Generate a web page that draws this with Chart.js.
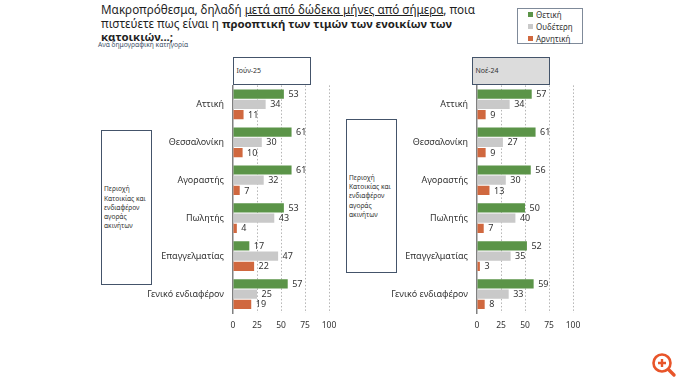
<!DOCTYPE html>
<html lang="el">
<head>
<meta charset="utf-8">
<script src="https://cdn.jsdelivr.net/npm/chart.js@4"></script>
<style>
    html, body { margin: 0; padding: 0; background: #fff; }
    body { position: relative; width: 680px; height: 382px; overflow: hidden; font-family: "Noto Sans", sans-serif; color: #1f1f1f; }
    canvas { position: absolute; }
    .abs { position: absolute; box-sizing: border-box; }
    .title { left: 101px; top: 3px; width: 400px; font-size: 11.7px; line-height: 13.5px; white-space: nowrap; }
    .title b { font-size: 11.4px; }
    .subtitle { left: 98px; top: 40px; font-size: 6.7px; line-height: 10px; color: #44546a; }
    .period { top: 57px; width: 78px; height: 27.5px; border: 1.5px solid #44546a; font-size: 7px; line-height: 26px; padding-left: 2.5px; color: #333; }
    .side { width: 51px; border: 1.5px solid #44546a; font-size: 6.6px; line-height: 9.2px; padding-left: 2px; display: flex; align-items: center; color: #333; }
    .legend { left: 517px; top: 7.5px; width: 66px; height: 36px; border: 1px solid #7f8a99; font-size: 8px; }
    .legend div { position: absolute; left: 18px; line-height: 12px; white-space: nowrap; color: #333; }
    .legend i { position: absolute; left: -8px; top: 3.5px; width: 5px; height: 5px; }
</style>
</head>
<body>
<div class="abs title">Μακροπρόθεσμα, δηλαδή <u>μετά από δώδεκα μήνες από σήμερα</u>, ποια<br>πιστεύετε πως είναι η <b>προοπτική των τιμών των ενοικίων των</b><br><b>κατοικιών...;</b></div>
<div class="abs subtitle">Ανά δημογραφική κατηγορία</div>
<div class="abs legend" id="legend"></div>

<div class="abs period" style="left:233px">Ιούν-25</div>
<div class="abs period" style="left:472px;background:#dcdcdc">Νοέ-24</div>
<div class="abs side" style="left:101px;top:130px;height:155px"><span>Περιοχή Κατοικίας και ενδιαφέρον αγοράς ακινήτων</span></div>
<div class="abs side" style="left:346px;top:119px;height:154px"><span>Περιοχή Κατοικίας και ενδιαφέρον αγοράς ακινήτων</span></div>

<canvas id="chart-1" style="left:120px;top:71px;width:225px;height:269px" width="225" height="269"></canvas>
<canvas id="chart-2" style="left:364px;top:71px;width:225px;height:269px" width="225" height="269"></canvas>

<svg class="abs" style="left:648px;top:349px" width="30" height="30" viewBox="0 0 30 30">
    <circle cx="14" cy="14" r="8.5" fill="#fff" stroke="#e8552a" stroke-width="2.6"/>
    <path d="M20.5 20.5 L26 26" stroke="#e8552a" stroke-width="3.4" stroke-linecap="round"/>
    <path d="M10 14 H18 M14 10 V18" stroke="#e8552a" stroke-width="2.4"/>
</svg>

<script>
    var categories = ['Αττική', 'Θεσσαλονίκη', 'Αγοραστής', 'Πωλητής', 'Επαγγελματίας', 'Γενικό ενδιαφέρον'];
    var seriesNames = ['Θετική', 'Ουδέτερη', 'Αρνητική'];
    var seriesColors = ['#5b9448', '#c9c9c9', '#d0683f'];
    var xTicks = [0, 25, 50, 75, 100];

    var jun25Positive = [53, 61, 61, 53, 17, 57];
    var jun25Neutral = [34, 30, 32, 43, 47, 25];
    var jun25Negative = [11, 10, 7, 4, 22, 19];

    var nov24Positive = [57, 61, 56, 50, 52, 59];
    var nov24Neutral = [34, 27, 30, 40, 35, 33];
    var nov24Negative = [9, 9, 13, 7, 3, 8];

    var fontFamily = '"Noto Sans", sans-serif';
    var textColor = '#333333';

    // value next to each bar
    var barLabels = {
        id: 'barLabels',
        afterDatasetsDraw: function (chart) {
            var ctx = chart.ctx;
            ctx.save();
            ctx.font = '9px ' + fontFamily;
            ctx.fillStyle = textColor;
            ctx.textBaseline = 'middle';
            chart.data.datasets.forEach(function (dataset, i) {
                chart.getDatasetMeta(i).data.forEach(function (bar, j) {
                    ctx.fillText(dataset.data[j], bar.x + 4.5, bar.y + 0.5);
                });
            });
            ctx.restore();
        }
    };

    function drawChart(id, positive, neutral, negative) {
        var values = [positive, neutral, negative];
        new Chart(id, {
            type: 'bar',
            data: {
                labels: categories,
                datasets: seriesNames.map(function (name, i) {
                    return {
                        label: name,
                        data: values[i],
                        backgroundColor: seriesColors[i],
                        categoryPercentage: 0.81,
                        barPercentage: 0.9
                    };
                })
            },
            plugins: [barLabels],
            options: {
                indexAxis: 'y',
                responsive: false,
                animation: false,
                layout: { autoPadding: false, padding: { top: 8, right: 16, left: 0, bottom: 0 } },
                plugins: { legend: { display: false }, tooltip: { enabled: false } },
                scales: {
                    x: {
                        min: 0,
                        max: 100,
                        afterBuildTicks: function (axis) {
                            axis.ticks = xTicks.map(function (v) { return { value: v }; });
                        },
                        afterFit: function (axis) { axis.height = 27; },
                        grid: {
                            drawTicks: false,
                            color: function (c) { return c.tick && c.tick.value === 0 ? 'transparent' : '#b4b4b4'; }
                        },
                        border: { display: false, dash: [1.5, 2] },
                        ticks: { padding: 7, maxRotation: 0, color: textColor, font: { family: fontFamily, size: 8.5 } }
                    },
                    y: {
                        afterFit: function (axis) { axis.width = 113; },
                        grid: { display: false, drawTicks: false },
                        border: { display: true, color: '#808080', width: 1.5 },
                        ticks: { padding: 9, color: textColor, font: { family: fontFamily, size: 9 } }
                    }
                }
            }
        });
    }

    var legendBox = document.getElementById('legend');
    seriesNames.forEach(function (name, i) {
        var row = document.createElement('div');
        row.style.top = (i * 12) + 'px';
        row.innerHTML = '<i style="background:' + seriesColors[i] + '"></i>' + name;
        legendBox.appendChild(row);
    });

    drawChart('chart-1', jun25Positive, jun25Neutral, jun25Negative);
    drawChart('chart-2', nov24Positive, nov24Neutral, nov24Negative);
</script>
</body>
</html>
